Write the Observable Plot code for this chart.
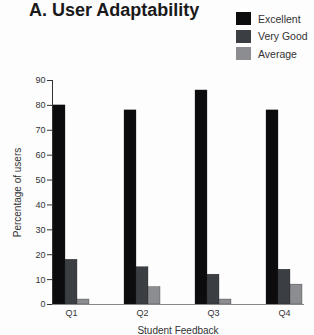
<!DOCTYPE html>
<html>
<head>
<meta charset="utf-8">
<script src="https://cdn.jsdelivr.net/npm/d3@7"></script>
<script src="https://cdn.jsdelivr.net/npm/@observablehq/plot@0.6"></script>
<style>
  body { margin: 0; background: #fdfdfe; font-family: "Liberation Sans", Arial, sans-serif; }
  #wrap { position: relative; width: 314px; height: 335px; overflow: hidden; }
  #title { position: absolute; left: 29px; top: 0px; font-size: 18px; font-weight: bold; color: #1a1a1a; white-space: nowrap; }
  #legend { position: absolute; left: 236px; top: 12px; }
  .row { display: flex; align-items: center; height: 13px; margin-bottom: 4.5px; }
  .sw { width: 15px; height: 13px; margin-right: 7px; }
  .lab { font-size: 10.5px; color: #333; white-space: nowrap; }
  #chart { position: absolute; left: 0; top: 70px; }
  #chart g[aria-label="y-axis label"] text, #chart g[aria-label="fx-axis label"] text { font-size: 10px; }
</style>
</head>
<body>
<div id="wrap">
  <div id="title">A. User Adaptability</div>
  <div id="legend"></div>
  <div id="chart"></div>
</div>
<script>
const questions = ["Q1", "Q2", "Q3", "Q4"];
const series = ["Excellent", "Very Good", "Average"];
const excellent = [80, 78, 86, 78];
const veryGood = [18, 15, 12, 14];
const average = [2, 7, 2, 8];
const yTicks = [0, 10, 20, 30, 40, 50, 60, 70, 80, 90];
const colors = ["#0c0c0f", "#3b3f43", "#8b8d91"];

const values = [excellent, veryGood, average];
const data = [];
questions.forEach((q, i) => series.forEach((s, j) => data.push({q, s, v: values[j][i]})));

const legend = document.getElementById("legend");
series.forEach((s, j) => {
  const r = document.createElement("div");
  r.className = "row";
  r.innerHTML = `<div class="sw" style="background:${colors[j]}"></div><div class="lab">${s}</div>`;
  legend.appendChild(r);
});

const chart = Plot.plot({
  width: 314,
  height: 265,
  marginLeft: 40,
  marginRight: 0,
  marginTop: 10,
  marginBottom: 31,
  style: {fontFamily: "Liberation Sans, Arial, sans-serif", fontSize: "9px", color: "#333", background: "transparent"},
  fx: {domain: questions, paddingInner: 0.465, paddingOuter: 0.16, axis: "bottom", tickSize: 0, tickPadding: 5, label: "Student Feedback", labelAnchor: "center", labelOffset: 29},
  x: {domain: series, padding: 0, axis: null},
  y: {domain: [0, 90], ticks: yTicks, tickSize: 5, tickPadding: 2, label: "Percentage of users", labelArrow: false, labelAnchor: "center", labelOffset: 39, line: true},
  color: {domain: series, range: colors},
  marks: [
    Plot.barY(data, {fx: "q", x: "s", y: "v", fill: "s", stroke: "#222", strokeWidth: 0.3}),
    Plot.frame({anchor: "bottom", facet: "super", stroke: "#888", strokeWidth: 1})
  ]
});
document.getElementById("chart").appendChild(chart);
</script>
</body>
</html>
